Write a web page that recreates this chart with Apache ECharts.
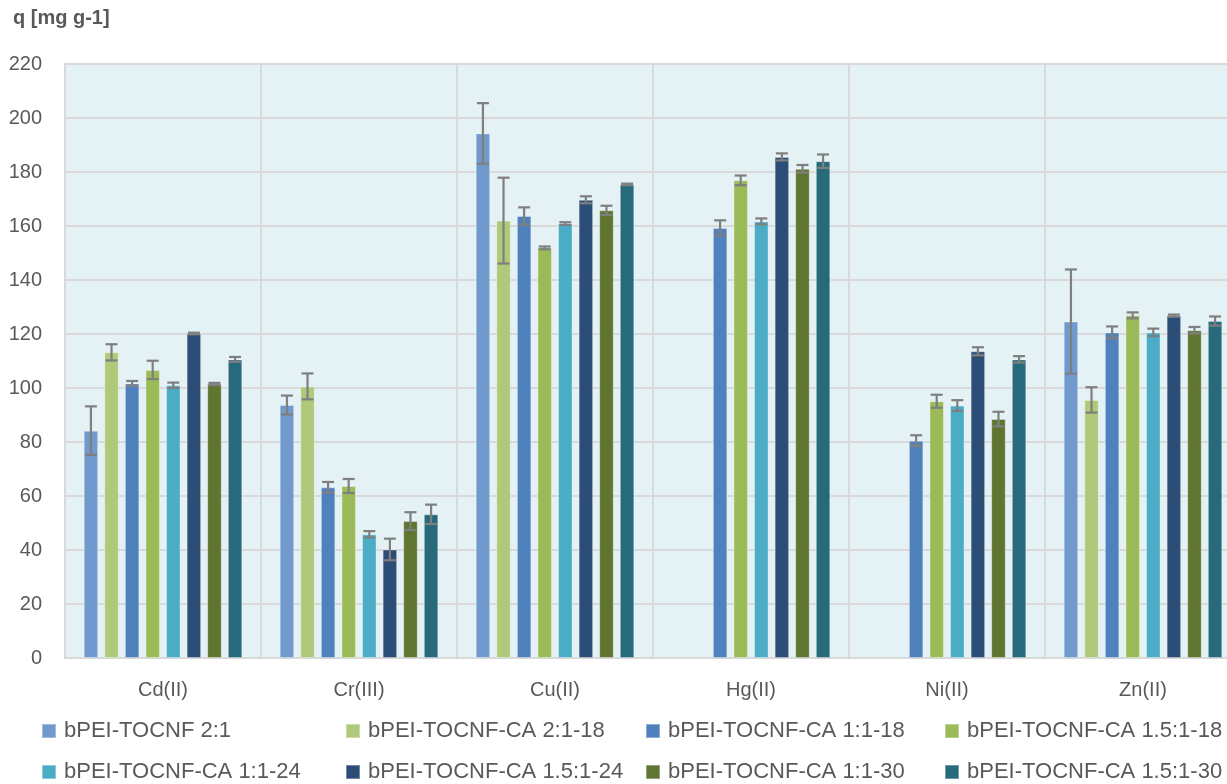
<!DOCTYPE html>
<html lang="en">
<head>
	<meta charset="UTF-8">
	<title>q [mg g-1]</title>
	<script type="text/javascript" src="https://cdn.jsdelivr.net/npm/echarts@6/dist/echarts.min.js"></script>
	<style>
		html, body { margin: 0; padding: 0; background: #fff; }
		#main { width: 1227px; height: 784px; }
	</style>
</head>
<body>
	<div id="main"></div>
	<script type="text/javascript">
	var categories = ['Cd(II)', 'Cr(III)', 'Cu(II)', 'Hg(II)', 'Ni(II)', 'Zn(II)'];
	var seriesNames = [
		'bPEI-TOCNF 2:1', 'bPEI-TOCNF-CA 2:1-18', 'bPEI-TOCNF-CA 1:1-18', 'bPEI-TOCNF-CA 1.5:1-18',
		'bPEI-TOCNF-CA 1:1-24', 'bPEI-TOCNF-CA 1.5:1-24', 'bPEI-TOCNF-CA 1:1-30', 'bPEI-TOCNF-CA 1.5:1-30'
	];
	var colors = ['#7099cd', '#afc97a', '#4f81bd', '#9bbb59', '#4bacc6', '#2c4d75', '#5f7530', '#276a7c'];

	// mean values, one list per series (null = not measured)
	var v1 = [84.2, 93.7, 194.3, null, null, 124.6];
	var v2 = [113.2, 100.6, 162.0, null, null, 95.6];
	var v3 = [101.7, 63.2, 163.7, 159.3, 80.5, 120.6];
	var v4 = [106.7, 63.7, 151.9, 176.9, 95.1, 126.9];
	var v5 = [101.0, 45.8, 160.9, 161.7, 93.5, 120.6];
	var v6 = [120.2, 40.2, 169.7, 185.6, 113.6, 126.8];
	var v7 = [101.5, 50.7, 165.8, 181.2, 88.5, 121.4];
	var v8 = [110.6, 53.2, 175.4, 184.0, 110.6, 124.8];

	// +/- error
	var e1 = [9.0, 3.5, 11.2, null, null, 19.3];
	var e2 = [3.0, 4.8, 15.9, null, null, 4.7];
	var e3 = [0.9, 2.0, 3.2, 2.8, 2.0, 2.2];
	var e4 = [3.4, 2.6, 0.5, 1.8, 2.4, 1.1];
	var e5 = [1.0, 1.2, 0.5, 1.1, 2.0, 1.4];
	var e6 = [0.3, 4.0, 1.3, 1.3, 1.5, 0.4];
	var e7 = [0.4, 3.3, 1.7, 1.4, 2.7, 1.2];
	var e8 = [0.9, 3.6, 0.3, 2.5, 1.2, 1.7];

	var yTicks = { min: 0, max: 220, interval: 20 };

	var values = [v1, v2, v3, v4, v5, v6, v7, v8];
	var errors = [e1, e2, e3, e4, e5, e6, e7, e8];

	var myChart = echarts.init(document.getElementById('main'));
	var FONT = 'Liberation Sans';
	var BAR_W = 14.5;
	var GAP = 0.42;
	var STEP = BAR_W * (1 + GAP);

	var series = [];
	var errData = [];
	for (var s = 0; s < values.length; s++) {
		series.push({
			name: seriesNames[s],
			type: 'bar',
			barWidth: BAR_W,
			barGap: (GAP * 100) + '%',
			itemStyle: { color: colors[s], borderColor: 'rgba(255,255,255,0.35)', borderWidth: 1 },
			data: values[s].map(function (v) { return v == null ? '-' : v; })
		});
		for (var c = 0; c < categories.length; c++) {
			if (values[s][c] != null && errors[s][c] != null) {
				errData.push([c, values[s][c] - errors[s][c], values[s][c] + errors[s][c], s]);
			}
		}
	}

	series.push({
		type: 'custom',
		name: 'error',
		z: 10,
		silent: true,
		encode: { x: 0, y: [1, 2] },
		data: errData,
		renderItem: function (params, api) {
			var c = api.value(0);
			var lo = api.coord([c, api.value(1)]);
			var hi = api.coord([c, api.value(2)]);
			var off = (api.value(3) - 3.5) * STEP;
			var x = lo[0] + off;
			var hw = 6;
			var style = { stroke: '#7f7f7f', lineWidth: 2.2, fill: null };
			return {
				type: 'group',
				children: [
					{ type: 'line', shape: { x1: x, y1: hi[1], x2: x, y2: lo[1] }, style: style },
					{ type: 'line', shape: { x1: x - hw, y1: hi[1], x2: x + hw, y2: hi[1] }, style: style },
					{ type: 'line', shape: { x1: x - hw, y1: lo[1], x2: x + hw, y2: lo[1] }, style: style }
				]
			};
		}
	});

	// legend: two rows of four, Excel-like columns
	var legendCols = [41, 345, 645, 944];
	var legendRows = [720, 761];
	var legends = [];
	for (var i = 0; i < seriesNames.length; i++) {
		legends.push({
			data: [seriesNames[i]],
			left: legendCols[i % 4],
			top: legendRows[Math.floor(i / 4)],
			padding: 0,
			itemWidth: 14,
			itemHeight: 14,
			itemGap: 0,
			icon: 'rect',
			selectedMode: false,
			textStyle: { fontFamily: FONT, fontSize: 22, lineHeight: 22, color: '#595959', padding: [0, 0, 0, 3] }
		});
	}

	option = {
		animation: false,
		backgroundColor: '#ffffff',
		color: colors,
		title: {
			text: 'q [mg g-1]',
			left: 13,
			top: 8,
			padding: 0,
			textStyle: { fontFamily: FONT, fontSize: 20, fontWeight: 'bold', color: '#595959' }
		},
		legend: legends,
		grid: {
			left: 65,
			top: 64,
			width: 1176,
			height: 594,
			outerBoundsMode: 'none',
			containLabel: false,
			show: true,
			backgroundColor: '#e4f1f5',
			borderColor: '#d9d9d9',
			borderWidth: 0
		},
		xAxis: {
			type: 'category',
			data: categories,
			axisLine: { show: true, lineStyle: { color: '#d9d9d9', width: 2 } },
			axisTick: { show: false },
			splitLine: { show: true, lineStyle: { color: '#d9d9d9', width: 2 } },
			axisLabel: { fontFamily: FONT, fontSize: 20, color: '#595959', margin: 22 }
		},
		yAxis: {
			type: 'value',
			min: yTicks.min,
			max: yTicks.max,
			interval: yTicks.interval,
			axisLine: { show: true, lineStyle: { color: '#d9d9d9', width: 2 } },
			axisTick: { show: false },
			splitLine: { show: true, lineStyle: { color: '#d9d9d9', width: 2 } },
			axisLabel: { fontFamily: FONT, fontSize: 20, color: '#595959', margin: 23, align: 'right' }
		},
		series: series
	};

	if (option && typeof option === "object") {
		myChart.setOption(option);
	}
	</script>
</body>
</html>
